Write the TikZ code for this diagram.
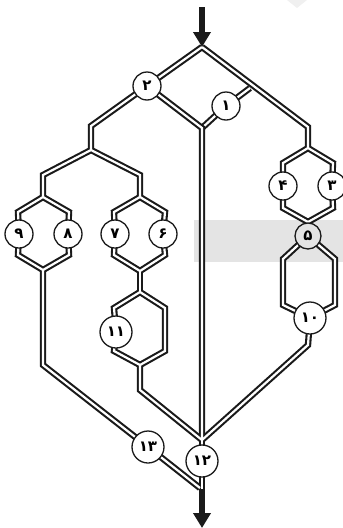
\documentclass[tikz,border=0pt]{standalone}
\usepackage{fontspec}
\newfontfamily\arabicfont[Script=Arabic]{DejaVu Sans}
\usetikzlibrary{arrows.meta,backgrounds}
\definecolor{bandgray}{HTML}{E4E4E4}
\definecolor{pipeblack}{HTML}{1A1A1A}

\tikzset{
  cell/.style={circle,draw=pipeblack,line width=1.3pt,fill=white,inner sep=0pt,minimum size=28pt,font=\arabicfont\bfseries\fontsize{15}{15}\selectfont},
  bigcell/.style={cell,minimum size=32pt},
  flow/.style={line width=6pt,draw=pipeblack,-{Triangle[length=15pt,width=17pt]}}
}

% all pipes, drawn twice: once dark, once for the white core
\newcommand{\pipes}[2]{
  \draw[line width=#1,color=#2,line join=miter] (apex) -- (c2.center) -- (p1) -- (p2);
  \draw[line width=#1,color=#2,line join=miter] (p2) -- (p3) -- (p4);
  \draw[line width=#1,color=#2,line join=miter] (p2) -- (p5) -- (p6);
  % hexagon 9 and 8
  \draw[line width=#1,color=#2,line join=miter] (p4) -- (p7) -- (c9.center) -- (p8) -- (p9) -- (p10) -- (c8.center) -- (p11) -- cycle;
  \draw[line width=#1,color=#2,line join=miter] (p9) -- (p12) -- (c13.center) -- (p13);
  % hexagon 7 and 6
  \draw[line width=#1,color=#2,line join=miter] (p6) -- (p14) -- (c7.center) -- (p15) -- (p16) -- (p17) -- (c6.center) -- (p18) -- cycle;
  \draw[line width=#1,color=#2,line join=miter] (p16) -- (p19);
  % hexagon 11
  \draw[line width=#1,color=#2,line join=miter] (p19) -- (p20) -- (c11.center) -- (p21) -- (p22) -- (p23) -- (p24) -- cycle;
  \draw[line width=#1,color=#2,line join=miter] (p22) -- (p25) -- (p26);
  % middle
  \draw[line width=#1,color=#2,line join=miter] (c2.center) -- (mid) -- (p26);
  \draw[line width=#1,color=#2,line join=miter] (p26) -- (c12.center) -- (stem);
  % right branch
  \draw[line width=#1,color=#2,line join=miter] (apex) -- (p27) -- (p28) -- (p29);
  \draw[line width=#1,color=#2,line join=miter] (p29) -- (p30) -- (c4.center) -- (p31) -- (p32) -- (p33) -- (c3.center) -- (p34) -- cycle;
  \draw[line width=#1,color=#2,line join=miter] (p32) -- (c5.center);
  \draw[line width=#1,color=#2,line join=miter] (c5.center) -- (p35) -- (p36) -- (c10.center) -- (p37) -- (p38) -- cycle;
  \draw[line width=#1,color=#2,line join=miter] (c10.center) -- (p39) -- (p26);
}

\begin{document}
\begin{tikzpicture}[x=1pt,y=-1pt]
\useasboundingbox (0,0) rectangle (343,528);

% cells
\foreach \name/\x/\y/\label in {c1/226/106/۱,c2/147/86/۲,c3/332/186/۳,c4/283/186/۴,c6/163/234/۶,c7/115/234/۷,c8/68/234/۸,c9/19/234/۹}
  \node[cell] (\name) at (\x,\y) {\label};
\node[cell,minimum size=26pt,fill=bandgray] (c5) at (308,236) {۵};
\foreach \name/\x/\y/\label in {c10/310/318/۱۰,c11/116/332/۱۱,c12/202/461/۱۲,c13/148/447/۱۳}
  \node[bigcell] (\name) at (\x,\y) {\label};

% bends of the pipes
\foreach \name/\x/\y in {apex/202/47,mid/202/128,branch/250/88,stem/202/489,
  p1/91/126,p2/91/150,p3/43/175,p4/43/197,p5/140/175,p6/140/197,
  p7/18/212,p8/18/255,p9/43/270,p10/69/255,p11/69/212,p12/43/365,p13/200/488,
  p14/114/212,p15/114/255,p16/140/271,p17/165/255,p18/165/212,p19/140/292,
  p20/114/308,p21/114/351,p22/140/365,p23/165/351,p24/165/308,p25/140/390,p26/202/440,
  p27/308/127,p28/308/147,p29/308/148,p30/283/163,p31/283/208,p32/308/222,p33/333/208,p34/333/163,
  p35/283/259,p36/283/305,p37/335/305,p38/335/259,p39/308/345}
  \coordinate (\name) at (\x,\y);
\coordinate (in) at (202,7);
\coordinate (out) at (202,528);

\begin{scope}[on background layer]
  \fill[bandgray] (194,220) rectangle (343,262);
  \fill[black!6] (287,0) -- (307,0) -- (297,8) -- cycle;
  % stub of cell 1
  \draw[line width=6.4pt,pipeblack] (c1.center) -- (mid);
  \draw[line width=6.4pt,pipeblack] (c1.center) -- (branch);
  \draw[line width=2.2pt,white] (c1.center) -- (mid);
  \draw[line width=2.2pt,white] (c1.center) -- (branch);
  \pipes{6.4pt}{pipeblack}
  \pipes{2.2pt}{white}
\end{scope}

\draw[flow] (stem) -- (out);
\draw[flow] (in) -- (apex);
\end{tikzpicture}
\end{document}
